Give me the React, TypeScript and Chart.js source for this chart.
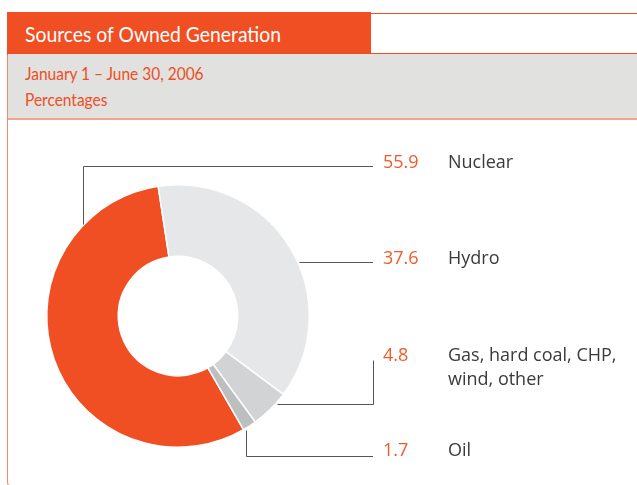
import React, { useEffect, useRef } from "react";
import { Chart, registerables } from "chart.js";

Chart.register(...registerables);

const categories = ["Nuclear", "Hydro", "Gas, hard coal, CHP,\nwind, other", "Oil"];
const values = [55.9, 37.6, 4.8, 1.7];
const valueLabels = ["55.9", "37.6", "4.8", "1.7"];
const sliceColors = ["#f04e23", "#e6e7e8", "#d1d3d4", "#bcbec0"];

const title = "Sources of Owned Generation";
const subtitle1 = "January 1 \u2013 June 30, 2006";
const subtitle2 = "Percentages";

const HEAD_FONT = "Lato, 'Open Sans', sans-serif";
const LABEL_FONT = "'Open Sans', 'Noto Sans', sans-serif";
const ORANGE = "#f04e23";

// leader layout: anchor angle (deg clockwise from top), shape, y of label line
const leaders = [
  { angle: -46, kind: "up", y: 166 },
  { angle: 65.85, kind: "h", y: 262 },
  { angle: 131.7, kind: "rightUp", y: 360 },
  { angle: 149.0, kind: "downRight", y: 456 },
];
const LEADER_END_X = 373;
const labelCenters = [161, 257, 354, 449];

const leaderPlugin = {
  id: "leaders",
  afterDraw(chart: any) {
    const meta = chart.getDatasetMeta(0);
    const arc = meta.data[0];
    if (!arc) return;
    const cx = arc.x;
    const cy = arc.y;
    const r = arc.outerRadius + 1.5;
    const ctx = chart.ctx;
    ctx.save();
    ctx.strokeStyle = "#555555";
    ctx.lineWidth = 1;
    leaders.forEach((l) => {
      const t = (l.angle * Math.PI) / 180;
      const ax = Math.round(cx + r * Math.sin(t)) + 0.5;
      const ay = Math.round(cy - r * Math.cos(t)) + 0.5;
      const ly = Math.round(l.y) + 0.5;
      ctx.beginPath();
      if (l.kind === "up") {
        ctx.moveTo(ax, ay);
        ctx.lineTo(ax, ly);
        ctx.lineTo(LEADER_END_X, ly);
      } else if (l.kind === "h") {
        ctx.moveTo(ax, ly);
        ctx.lineTo(LEADER_END_X, ly);
      } else if (l.kind === "rightUp") {
        ctx.moveTo(ax, ay);
        ctx.lineTo(LEADER_END_X + 0.5, ay);
        ctx.lineTo(LEADER_END_X + 0.5, ly);
      } else {
        ctx.moveTo(ax, ay);
        ctx.lineTo(ax, ly);
        ctx.lineTo(LEADER_END_X, ly);
      }
      ctx.stroke();
    });
    ctx.restore();
  },
};

export default function App() {
  const ref = useRef<HTMLCanvasElement | null>(null);
  useEffect(() => {
    if (!ref.current) return;
    const chart = new Chart(ref.current, {
      type: "doughnut",
      data: {
        labels: categories,
        datasets: [
          {
            data: values,
            backgroundColor: sliceColors,
            borderColor: "#ffffff",
            borderWidth: 1.5,
          },
        ],
      },
      options: {
        responsive: false,
        animation: false,
        rotation: 150.06,
        cutout: "45.5%",
        layout: { padding: { left: 46, right: 327, top: 184, bottom: 37 } },
        plugins: { legend: { display: false }, tooltip: { enabled: false } },
      },
      plugins: [leaderPlugin],
    });
    return () => chart.destroy();
  }, []);

  const abs = (s: any) => ({ position: "absolute", ...s } as React.CSSProperties);

  return (
    <div style={abs({ left: 0, top: 0, width: 637, height: 485, overflow: "hidden", background: "#fff", fontFamily: HEAD_FONT })}>
      {/* frame */}
      <div style={abs({ left: 7, top: 13, width: 700, height: 473, borderLeft: "1.5px solid #f6896a", borderTop: `1.5px solid ${ORANGE}`, borderBottomLeftRadius: 6, borderBottom: "1.5px solid #f6896a" })} />
      <div style={abs({ left: 7, top: 12, width: 364, height: 41, background: ORANGE })} />
      <div style={abs({ left: 7, top: 53, width: 640, height: 1.5, background: ORANGE })} />
      <div style={abs({ left: 8, top: 54, width: 640, height: 64, background: "#e1e1df", borderBottom: "2px solid #f4a58c" })} />
      <div style={abs({ left: 25, top: 20, color: "#fff", fontSize: 21, lineHeight: "28px", whiteSpace: "nowrap", transform: "scaleX(0.92)", transformOrigin: "0 0" })}>{title}</div>
      <div style={abs({ left: 25, top: 60, color: ORANGE, fontSize: 18, lineHeight: "26px", whiteSpace: "nowrap", transform: "scaleX(0.86)", transformOrigin: "0 0" })}>
        {subtitle1}
        <br />
        {subtitle2}
      </div>
      <canvas ref={ref} width={637} height={485} style={abs({ left: 0, top: 0, width: 637, height: 485 })} />
      {categories.map((c, i) => (
        <React.Fragment key={c}>
          <div style={abs({ left: 383, top: labelCenters[i] - 12, color: "#f15a2b", fontFamily: LABEL_FONT, fontSize: 18, lineHeight: "24px", whiteSpace: "nowrap" })}>
            {valueLabels[i]}
          </div>
          <div style={abs({ left: 448, top: labelCenters[i] - 12, color: "#3a3a3a", fontFamily: LABEL_FONT, fontSize: 18, lineHeight: "24px", whiteSpace: "pre" })}>
            {c}
          </div>
        </React.Fragment>
      ))}
    </div>
  );
}
